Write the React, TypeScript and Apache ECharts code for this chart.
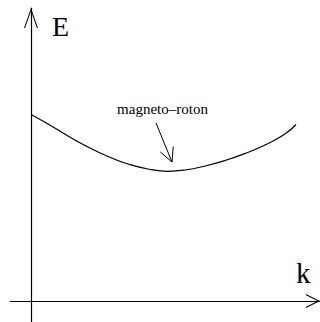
import React, { useEffect, useRef } from "react";
import * as echarts from "echarts";

// Dispersion curve E(k) (arbitrary units)
const kValues = [0, 0.17, 0.37, 0.57, 0.77, 0.97, 1.17, 1.37, 1.54, 1.74, 1.94, 2.14, 2.34, 2.54, 2.65];
const energyValues = [1.865, 1.77, 1.65, 1.54, 1.445, 1.37, 1.32, 1.297, 1.31, 1.35, 1.405, 1.475, 1.56, 1.67, 1.765];

const xAxisName = "k";
const yAxisName = "E";
const annotationText = "magneto–roton";

// annotation anchors, in data units
const annotationTail = [1.25, 1.78];
const annotationTip = [1.41, 1.39];
const annotationLabelAt = [1.315, 1.92];

const FONT = "'Liberation Serif', 'DejaVu Serif', serif";
const AXIS_COLOR = "#000";

const yArrow = "path://M7,0L14,20L12.9,20L7,3.1L1.1,20L0,20Z";
const xArrow = "path://M7,0L14,14L12.8,14L7,2.4L1.2,14L0,14Z";

export default function App() {
  const ref = useRef<HTMLDivElement>(null);

  useEffect(() => {
    if (!ref.current) return;
    const chart = echarts.init(ref.current, null, { renderer: "svg" });
    chart.setOption({
      animation: false,
      backgroundColor: "#fff",
      grid: { left: 10, right: 0, top: 8, bottom: 0, containLabel: false },
      xAxis: {
        type: "value",
        min: -0.21,
        max: 2.89,
        axisLine: {
          onZero: true,
          lineStyle: { color: AXIS_COLOR, width: 1.2 },
          symbol: ["none", xArrow],
          symbolSize: [14, 14],
          symbolOffset: [0, -7],
        },
        axisTick: { show: false },
        axisLabel: { show: false },
        splitLine: { show: false },
      },
      yAxis: {
        type: "value",
        min: -0.21,
        max: 2.93,
        axisLine: {
          onZero: true,
          lineStyle: { color: AXIS_COLOR, width: 1.2 },
          symbol: ["none", yArrow],
          symbolSize: [14, 20],
          symbolOffset: [0, -10],
        },
        axisTick: { show: false },
        axisLabel: { show: false },
        splitLine: { show: false },
      },
      series: [
        {
          type: "line",
          data: kValues.map((k, i) => [k, energyValues[i]]),
          showSymbol: false,
          smooth: true,
          lineStyle: { color: "#000", width: 1.2 },
        },
      ],
    });

    const toPx = (p: number[]) => chart.convertToPixel({ gridIndex: 0 }, p) as number[];
    const tail = toPx(annotationTail);
    const tip = toPx(annotationTip);
    const lab = toPx(annotationLabelAt);
    const ang = Math.atan2(tip[1] - tail[1], tip[0] - tail[0]);
    const headLen = 15.5;
    const headAng = 0.47;
    const armA = [tip[0] - headLen * Math.cos(ang - headAng), tip[1] - headLen * Math.sin(ang - headAng)];
    const armB = [tip[0] - headLen * Math.cos(ang + headAng), tip[1] - headLen * Math.sin(ang + headAng)];

    chart.setOption({
      graphic: [
        {
          type: "text",
          x: 52,
          y: 26,
          style: { text: yAxisName, fill: "#000", fontSize: 28, fontFamily: FONT, align: "left", verticalAlign: "middle" },
        },
        {
          type: "text",
          x: 296,
          y: 273,
          style: { text: xAxisName, fill: "#000", fontSize: 29, fontFamily: FONT, align: "left", verticalAlign: "middle" },
        },
        {
          type: "text",
          x: lab[0],
          y: lab[1],
          style: { text: annotationText, fill: "#000", fontSize: 15, fontFamily: FONT, align: "center", verticalAlign: "middle" },
        },
        {
          type: "line",
          shape: { x1: tail[0], y1: tail[1], x2: tip[0], y2: tip[1] },
          style: { stroke: "#000", lineWidth: 1 },
        },
        {
          type: "polyline",
          shape: { points: [armA, tip, armB] },
          style: { stroke: "#000", lineWidth: 1, fill: null },
        },
      ],
    });

    return () => chart.dispose();
  }, []);

  return <div ref={ref} style={{ position: "fixed", left: 0, top: 0, width: 320, height: 322 }} />;
}
